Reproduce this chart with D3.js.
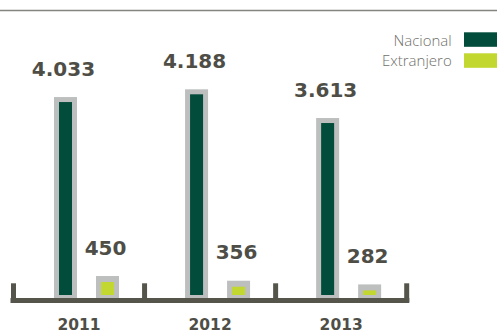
<!DOCTYPE html>
<html><head><meta charset="utf-8">
<script src="https://cdn.jsdelivr.net/npm/d3@7"></script>
<style>
html,body{margin:0;padding:0;background:#fff;}
svg{display:block;}
</style></head>
<body>
<script>
const years = ["2011", "2012", "2013"];
const series = ["Nacional", "Extranjero"];
const nacional = [4033, 4188, 3613];
const extranjero = [450, 356, 282];
const valueLabels = [["4.033", "450"], ["4.188", "356"], ["3.613", "282"]];
const colors = {Nacional: "#024c3b", Extranjero: "#c2d72f"};

const W = 497, H = 335;
const svg = d3.select("body").append("svg").attr("width", W).attr("height", H);

// top rule
svg.append("line").attr("x1", 0).attr("x2", W).attr("y1", 10.5).attr("y2", 10.5)
  .attr("stroke", "#85857f").attr("stroke-width", 1.5);

const x0 = d3.scaleBand().domain(years).range([13.5, 406.7]).padding(0);
const x1 = d3.scalePoint().domain(series).range([52, 94]);
const y = d3.scaleLinear().domain([0, 5000]).range([298.5, 298.5 - 5000 * 0.04995]);
const barW = 23, inset = 5;

const data = [];
years.forEach((yr, i) => {
  data.push({year: yr, s: "Nacional", v: nacional[i], label: valueLabels[i][0]});
  data.push({year: yr, s: "Extranjero", v: extranjero[i], label: valueLabels[i][1]});
});

const g = svg.append("g");
const bars = g.selectAll("g.bar").data(data).join("g").attr("class", "bar");
bars.append("rect")
  .attr("x", d => x0(d.year) + x1(d.s) - barW / 2)
  .attr("y", d => y(d.v))
  .attr("width", barW)
  .attr("height", d => y(0) - y(d.v))
  .attr("fill", "#bdbebe");
bars.append("rect")
  .attr("x", d => x0(d.year) + x1(d.s) - barW / 2 + inset)
  .attr("y", d => y(d.v) + inset + (d.s === "Extranjero" ? 1 : 0))
  .attr("width", barW - 2 * inset)
  .attr("height", d => Math.max(0, (y(0) - 3.5) - (y(d.v) + inset + (d.s === "Extranjero" ? 1 : 0))))
  .attr("fill", d => colors[d.s]);
bars.append("text")
  .attr("x", d => x0(d.year) + x1(d.s) - 2)
  .attr("y", d => y(d.v) - 21.5)
  .attr("text-anchor", "middle")
  .attr("font-family", "DejaVu Sans")
  .attr("font-weight", "bold")
  .attr("font-size", 20)
  .attr("fill", "#4e4e47")
  .text(d => d.label);

// axis
const axisColor = "#55554b";
const [r0, r1] = x0.range();
svg.append("line").attr("x1", r0 - 3).attr("x2", r1 + 2.6).attr("y1", 300.5).attr("y2", 300.5)
  .attr("stroke", axisColor).attr("stroke-width", 5);
const tickXs = years.map(yr => x0(yr)).concat([r1]);
svg.selectAll("line.tick").data(tickXs).join("line").attr("class", "tick")
  .attr("x1", d => d).attr("x2", d => d).attr("y1", 283.3).attr("y2", 302)
  .attr("stroke", axisColor).attr("stroke-width", 5);

const axis = svg.append("g").attr("transform", "translate(0,302)")
  .call(d3.axisBottom(x0).tickSize(0).tickPadding(17));
axis.select(".domain").remove();
axis.selectAll("text")
  .attr("font-family", "DejaVu Sans").attr("font-weight", "bold").attr("font-size", 15.5)
  .attr("fill", "#4e4e47").attr("dy", "0.71em");

// legend
const leg = svg.append("g");
series.forEach((s, i) => {
  leg.append("rect").attr("x", 464).attr("y", 32.3 + i * 21).attr("width", 40).attr("height", 14.5)
    .attr("fill", colors[s]);
  leg.append("text").attr("x", 451.7).attr("y", 45.5 + i * 20.5)
    .attr("text-anchor", "end")
    .attr("font-family", "Open Sans").attr("font-weight", 300).attr("font-size", 15)
    .attr("fill", "#6f6f6a").text(s);
});
</script>
</body></html>
